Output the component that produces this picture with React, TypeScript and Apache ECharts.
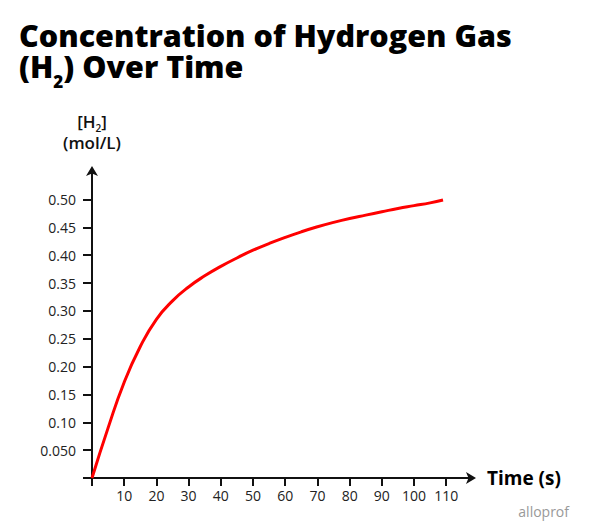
import React, { useEffect, useRef } from "react";
import * as echarts from "echarts";

const times = [0, 5, 10, 15, 20, 25, 30, 35, 40, 45, 50, 55, 60, 65, 70, 75, 80, 85, 90, 95, 100, 105, 109];
const concentrations = [0, 0.09, 0.172, 0.236, 0.285, 0.318, 0.343, 0.363, 0.38, 0.395, 0.409, 0.421, 0.432, 0.442, 0.451, 0.459, 0.466, 0.472, 0.478, 0.484, 0.489, 0.494, 0.499];
const xTickValues = [0, 10, 20, 30, 40, 50, 60, 70, 80, 90, 100, 110];
const xLabelValues = [10, 20, 30, 40, 50, 60, 70, 80, 90, 100, 110];
const yTickValues = [0, 0.05, 0.1, 0.15, 0.2, 0.25, 0.3, 0.35, 0.4, 0.45, 0.5];
const yLabelValues = [0.05, 0.1, 0.15, 0.2, 0.25, 0.3, 0.35, 0.4, 0.45, 0.5];

const FONT = "'Open Sans', 'Noto Sans', sans-serif";
const INK = "#111";

export default function App() {
  const ref = useRef<HTMLDivElement>(null);
  useEffect(() => {
    if (!ref.current) return;
    const chart = echarts.init(ref.current, null, { renderer: "svg" });
    const data = times.map((t, i) => [t, concentrations[i]]);
    chart.setOption({
      animation: false,
      backgroundColor: "#fff",
      title: {
        text: "Concentration of Hydrogen Gas\n(H{sub|2}) Over Time",
        left: 19,
        top: 19,
        padding: 0,
        textStyle: {
          fontFamily: FONT,
          fontSize: 30.5,
          fontWeight: 800,
          color: "#000",
          lineHeight: 31,
          rich: {
            sub: { fontFamily: FONT, fontSize: 17, fontWeight: 800, color: "#000", padding: [32, 0, 0, 0] },
          },
        },
      },
      grid: { left: 92, right: 128, top: 170, bottom: 54, outerBoundsMode: "none" },
      xAxis: {
        type: "value",
        min: 0,
        max: 118,
        name: "Time (s)",
        nameLocation: "end",
        nameGap: 15,
        nameTextStyle: { fontFamily: FONT, fontSize: 19, fontWeight: 700, color: "#000", verticalAlign: "middle", padding: [0, 0, 4, 0] },
        splitLine: { show: false },
        axisLine: { show: true, symbol: ["none", "arrow"], symbolSize: [9, 10], symbolOffset: [0, 4], lineStyle: { color: INK, width: 2 } },
        axisTick: { show: true, length: 8, customValues: xTickValues, lineStyle: { color: INK, width: 2 } },
        axisLabel: { customValues: xLabelValues, margin: 10, fontFamily: FONT, fontSize: 14, color: "#222" },
      },
      yAxis: {
        type: "value",
        min: 0,
        max: 0.553,
        name: "[H{sub|2}]\n(mol/L)",
        nameLocation: "end",
        nameGap: 17,
        nameTextStyle: {
          fontFamily: FONT,
          fontSize: 17,
          fontWeight: 600,
          color: "#111",
          align: "center",
          lineHeight: 21,
          rich: { sub: { fontFamily: FONT, fontSize: 10, fontWeight: 600, color: "#111", padding: [12, 0, 0, 0] } },
        },
        splitLine: { show: false },
        axisLine: { show: true, symbol: ["none", "arrow"], symbolSize: [9, 10], symbolOffset: [0, 4], lineStyle: { color: INK, width: 2 } },
        axisTick: { show: true, length: 9, customValues: yTickValues, lineStyle: { color: INK, width: 2 } },
        axisLabel: {
          customValues: yLabelValues,
          margin: 16,
          fontFamily: FONT,
          fontSize: 14,
          color: "#222",
          formatter: (v: number) => (Math.abs(v - 0.05) < 1e-9 ? "0.050" : v.toFixed(2)),
        },
      },
      graphic: [
        {
          type: "text",
          right: 31,
          top: 504,
          style: { text: "alloprof", fontFamily: FONT, fontSize: 14, fill: "#999" },
        },
      ],
      series: [
        {
          type: "line",
          data,
          smooth: 0.5,
          showSymbol: false,
          lineStyle: { color: "#ff0000", width: 3 },
        },
      ],
    });
    return () => chart.dispose();
  }, []);
  return <div ref={ref} style={{ position: "fixed", left: 0, top: 0, width: 600, height: 532 }} />;
}
